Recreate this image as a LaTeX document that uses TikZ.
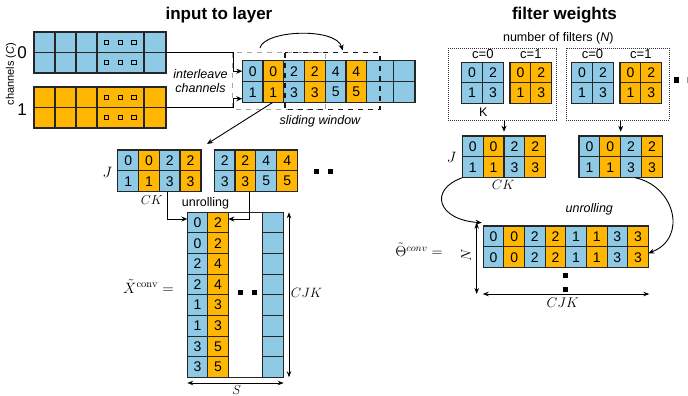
\RequirePackage{fix-cm}
\documentclass[tikz,border=0pt]{standalone}
\usepackage[no-math]{fontspec}
\setmainfont{Liberation Sans}
\usetikzlibrary{arrows.meta}
\definecolor{cblue}{RGB}{142,202,230}
\definecolor{corange}{RGB}{255,183,3}
\newcommand\fs[1]{\fontsize{#1}{#1}\selectfont}
\newcommand\cellbox[7]{\node[cell,#6,minimum width={((#4)-(#2))*1pt},minimum height={((#5)-(#3))*1pt}] (#1) at ({((#2)+(#4))/2},{((#3)+(#5))/2}) {#7};}
\begin{document}
\begin{tikzpicture}[x=1pt,y=-1pt,
 cell/.style={draw=black!85,line width=1.1pt,inner sep=0pt,outer sep=0pt,font={\fs{14}}},
 bc/.style={fill=cblue}, oc/.style={fill=corange},
 conn/.style={line width=0.9pt,black},
 arr/.style={conn,-{Stealth[length=6pt,width=5pt]}},
 dim/.style={conn,{Stealth[length=6pt,width=4.5pt]}-{Stealth[length=6pt,width=4.5pt]}},
 title/.style={font={\fs{17}\bfseries}},
 lbl/.style={font={\fs{12.5}}},
 ilbl/.style={font={\fs{12.5}\itshape}},
 dotsq/.style={fill=black,inner sep=0pt,minimum size=5pt},
 hsq/.style={draw=black,line width=1pt,inner sep=0pt,minimum size=4.5pt},
 dotbox/.style={draw=black!80,line width=1pt,densely dotted,inner sep=0pt},
 gdash/.style={draw=black!35,line width=1.5pt,dash pattern=on 5pt off 5pt},
 kdash/.style={draw=black!90,line width=1.5pt,dash pattern=on 5pt off 5pt},
 frame/.style={draw=black!85,line width=1.1pt},
]
\useasboundingbox (0,0) rectangle (688,396);

% titles
\node[title] (t1) at (219,15) {input to layer};
\node[title] (t2) at (564.5,15) {filter weights};

% ---------- input channels ----------
\foreach \xa/\xb [count=\i] in {34/55,55/76,76/97,97/144,144/166} {
  \cellbox{Bt\i}{\xa}{32}{\xb}{52.5}{bc}{}
  \cellbox{Bb\i}{\xa}{52.5}{\xb}{73}{bc}{}
  \cellbox{Ot\i}{\xa}{87}{\xb}{107.5}{oc}{}
  \cellbox{Ob\i}{\xa}{107.5}{\xb}{128}{oc}{}
}
\foreach \x [count=\i] in {106.7,120.7,134} {
  \foreach \y [count=\j] in {42.7,62.3,97.3,117.3} {
    \node[hsq] (hs\i\j) at (\x,\y) {};
  }
}
\node[font={\fs{17}}] (c0) at (22,53) {0};
\node[font={\fs{17}}] (c1) at (22,110) {1};
\node[font={\fs{11}},rotate=90] (chl) at (11,74) {channels (\textit{C})};

% ---------- interleaved row ----------
\draw[gdash] (232.7,52.7) rectangle (325.7,109.3);
\foreach \xa/\xb/\c/\t/\u [count=\i] in {242.3/263/bc/0/1,263/283.7/oc/0/1,283.7/304.3/bc/2/3,304.3/325.3/oc/2/3,325.3/346/bc/4/5,346/366.7/oc/4/5,366.7/393.3/bc/{}/{},393.3/415/bc/{}/{}} {
  \cellbox{Ia\i}{\xa}{60.7}{\xb}{81.7}{\c}{\t}
  \cellbox{Ib\i}{\xa}{81.7}{\xb}{102.7}{\c}{\u}
}
\draw[kdash] (285,52.7) rectangle (380,109.3);

\draw[arr] (Bb5.north east) -- (233,52.5) |- (Ia1.west);
\draw[arr] (Ob5.north east) -- (233,107.5) |- ([yshift=-6.5pt]Ib1.west);
\node[ilbl,align=center] (ilv) at (200.5,81.5) {interleave\\[1.5pt]channels};

\coordinate (a1) at (260,48);
\coordinate (a2) at (342.7,50.5);
\draw[arr] (a1) .. controls (264,30) and (336,27) .. (a2);
\node[ilbl] (sw) at (320,121.7) {sliding window};

\coordinate (s2) at (207,144);
\draw[arr] ([xshift=-1pt]Ib2.south) -- (s2);

% ---------- J rows (left) ----------
\foreach \xa/\xb/\c/\t/\u [count=\i] in {117.7/138.7/bc/0/1,138.7/159.3/oc/0/1,159.3/180/bc/2/3,180/201/oc/2/3} {
  \cellbox{La\i}{\xa}{150}{\xb}{170.7}{\c}{\t}
  \cellbox{Lb\i}{\xa}{170.7}{\xb}{191.7}{\c}{\u}
}
\foreach \xa/\xb/\c/\t/\u [count=\i] in {214.3/235/bc/2/3,235/255.7/oc/2/3,255.7/276.7/bc/4/5,276.7/297.7/oc/4/5} {
  \cellbox{Ma\i}{\xa}{150}{\xb}{170.7}{\c}{\t}
  \cellbox{Mb\i}{\xa}{170.7}{\xb}{191.7}{\c}{\u}
}
\node[dotsq] (ld1) at (316.7,171.7) {};
\node[dotsq] (ld2) at (330,171.7) {};
\node[font={\fs{15}}] (jl) at (107.5,172) {$J$};
\node[font={\fs{13}}] (ckl) at (151.7,200.5) {$CK$};

% ---------- unrolled X ----------
\foreach \v/\w [count=\i] in {0/2,0/2,2/4,2/4,1/3,1/3,3/5,3/5} {
  \pgfmathsetmacro\ya{212.3+(\i-1)*20.625}
  \pgfmathsetmacro\yb{\ya+20.625}
  \cellbox{Xa\i}{187.3}{\ya}{207.7}{\yb}{bc}{\v}
  \cellbox{Xb\i}{207.7}{\ya}{228.3}{\yb}{oc}{\w}
  \cellbox{Xz\i}{262.7}{\ya}{283.7}{\yb}{bc}{}
}
\draw[frame] (187.3,212.3) rectangle (283.7,377.3);
\node[dotsq] (xd1) at (240,292.7) {};
\node[dotsq] (xd2) at (254,292.7) {};

\coordinate (u1) at (167.3,191.7);
\coordinate (u2) at (249,191.7);
\draw[arr] (u1) |- ([yshift=3.6pt]Xa1.west);
\draw[arr] (u2) |- ([yshift=3.6pt]Xb1.east);
\node[lbl] (unl) at (205.5,203.5) {unrolling};

\node[font={\fs{15}}] (xl) at (148.5,286.5) {$\tilde{X}^{\mathrm{conv}}=$};

\coordinate (cj1) at (289,212.3);
\coordinate (cj2) at (289,377.3);
\draw[dim] (cj1) -- (cj2);
\node[font={\fs{13.5}}] (cjk1) at (306.5,293.3) {$CJK$};
\coordinate (sd1) at (187.3,383);
\coordinate (sd2) at (283.7,383);
\draw[dim] (sd1) -- (sd2);
\node[font={\fs{13}}] (sl) at (236.7,389.6) {$S$};

% ---------- filter weights ----------
\node[lbl] (nof) at (558.3,38.3) {number of filters (\textit{N})};
\node[dotbox,minimum width=108.4pt,minimum height=71.7pt] (F1) at (502.5,84.15) {};
\node[dotbox,minimum width=103.3pt,minimum height=71.7pt] (F2) at (617.65,84.15) {};

\foreach \ox/\c/\k in {461.7/bc/a,510/oc/b,571.7/bc/c,620/oc/d} {
  \pgfmathsetmacro\xm{\ox+20.85}
  \pgfmathsetmacro\xe{\ox+41.7}
  \cellbox{K\k1}{\ox}{62.3}{\xm}{82.8}{\c}{0}
  \cellbox{K\k2}{\xm}{62.3}{\xe}{82.8}{\c}{2}
  \cellbox{K\k3}{\ox}{82.8}{\xm}{103.3}{\c}{1}
  \cellbox{K\k4}{\xm}{82.8}{\xe}{103.3}{\c}{3}
}
\node[font={\fs{13}}] (ca0) at (482.85,54.3) {c=0};
\node[font={\fs{13}}] (ca1) at (530.85,54.3) {c=1};
\node[font={\fs{13}}] (cb0) at (592.5,54.3) {c=0};
\node[font={\fs{13}}] (cb1) at (640.85,54.3) {c=1};
\node[lbl] (kl) at (483.3,111.7) {K};
\node[dotsq] (fd1) at (676.7,80) {};
\node[dotsq,fill=black!40] (fd2) at (689,80) {};

% ---------- J rows (right) ----------
\foreach \ox/\k in {462.3/P,579/Q} {
  \foreach \c/\t/\u [count=\i] in {bc/0/1,oc/0/1,bc/2/3,oc/2/3} {
    \pgfmathsetmacro\xa{\ox+(\i-1)*20.85}
    \pgfmathsetmacro\xb{\xa+20.85}
    \cellbox{\k a\i}{\xa}{136}{\xb}{156.85}{\c}{\t}
    \cellbox{\k b\i}{\xa}{156.85}{\xb}{177.7}{\c}{\u}
  }
}
\draw[arr,shorten >=4.3pt] (F1.south -| Pa3.north west) -- (Pa3.north west);
\draw[arr,shorten >=4.3pt] (F2.south -| Qa3.north west) -- (Qa3.north west);
\node[font={\fs{15}}] (jr) at (451.7,157.5) {$J$};
\node[font={\fs{13.5}}] (ckr) at (503.3,185) {$CK$};

% ---------- unrolled Theta ----------
\foreach \c/\t [count=\i] in {bc/0,oc/0,bc/2,oc/2,bc/1,oc/1,bc/3,oc/3} {
  \pgfmathsetmacro\xa{483.3+(\i-1)*20.625}
  \pgfmathsetmacro\xb{\xa+20.625}
  \cellbox{Ta\i}{\xa}{226}{\xb}{246.85}{\c}{\t}
  \cellbox{Tb\i}{\xa}{246.85}{\xb}{267.7}{\c}{\t}
}
\coordinate (r1e) at (481.7,222.7);
\draw[arr] (Pb1.south west) .. controls (428,190) and (438,220) .. (r1e);
\coordinate (r2s) at (635,177.7);
\draw[arr] (r2s) .. controls (675,186) and (688,238) .. ([yshift=4pt]Tb8.east);
\node[ilbl] (unr) at (589.3,209.3) {unrolling};

\node[font={\fs{14.5}}] (thl) at (419,250) {$\tilde{\Theta}^{conv}=$};
\node[font={\fs{14}},rotate=90] (nl) at (466,255) {$N$};
\coordinate (nd1) at (476.7,222.7);
\coordinate (nd2) at (476.7,294);
\draw[dim] (nd1) -- (nd2);
\coordinate (cd1) at (482.7,294);
\coordinate (cd2) at (649.3,294);
\draw[dim] (cd1) -- (cd2);
\node[font={\fs{14}}] (cjk2) at (562.7,303) {$CJK$};
\node[dotsq] (td1) at (565.7,275) {};
\node[dotsq] (td2) at (565.7,289.3) {};
\end{tikzpicture}
\end{document}
